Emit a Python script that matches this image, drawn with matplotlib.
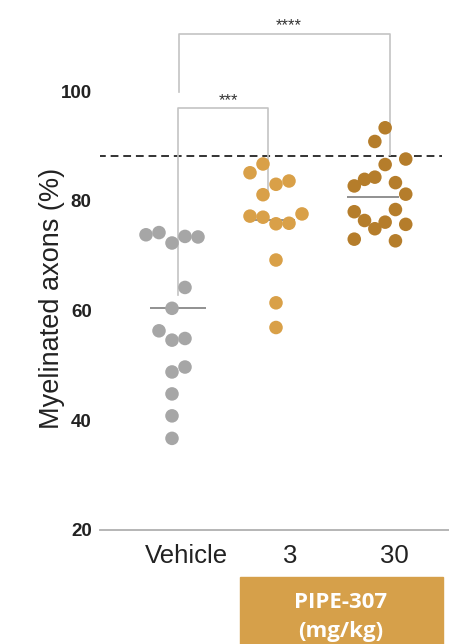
import matplotlib
matplotlib.use("Agg")
import matplotlib.pyplot as plt
import matplotlib.transforms as mtransforms
from matplotlib.patches import Rectangle

# ---------------- data ----------------
groups = ["Vehicle", "3", "30"]
vehicle_vals = [73.8, 74.2, 72.3, 73.5, 73.4, 64.2, 60.4, 56.3, 54.6, 54.9,
                49.7, 48.8, 44.8, 40.8, 36.7]
vehicle_slots = [-2, -1, 0, 1, 2, 1, 0, -1, 0, 1, 1, 0, 0, 0, 0]
dose3_vals = [85.1, 86.7, 83.0, 83.6, 81.1, 77.2, 77.0, 75.8, 75.9, 77.6,
              69.2, 61.4, 56.9]
dose3_slots = [-2, -1, 0, 1, -1, -2, -1, 0, 1, 2, 0, 0, 0]
dose30_vals = [93.3, 90.8, 86.6, 87.6, 82.7, 83.9, 84.3, 83.3, 81.2, 78.0,
               76.4, 74.9, 76.1, 78.4, 75.7, 73.0, 72.7]
dose30_slots = [0.5, -0.5, 0.5, 2.5, -2.5, -1.5, -0.5, 1.5, 2.5, -2.5,
                -1.5, -0.5, 0.5, 1.5, 2.5, -2.5, 1.5]
group_lines = [60.4, 76.5, 80.6]
reference_level = 88.2
yticks = [20, 40, 60, 80, 100]
sig_labels = ["***", "****"]

colors = ["#a6a6a6", "#d9a048", "#b57d2b"]
box_color = "#d6a04a"

# ---------------- figure ----------------
W, H = 449, 644
fig = plt.figure(figsize=(W / 100, H / 100), dpi=100)
ax = fig.add_axes([100 / W, (H - 530) / H, (W - 100) / W, 530 / H])

px_per_unit_y = (530 - 91) / 80.0
ymax = 100 + 91 / px_per_unit_y
ax.set_ylim(20, ymax)
col_px = 104.0
ax.set_xlim((100 - 172) / col_px, (449 - 172) / col_px)

def y_of(py):
    return 100 - (py - 91) / px_per_unit_y

def x_of(px):
    return (px - 172) / col_px

slot_w = [13 / col_px, 13 / col_px, 10.3 / col_px]
all_vals = [vehicle_vals, dose3_vals, dose30_vals]
all_slots = [vehicle_slots, dose3_slots, dose30_slots]

# group lines (behind points)
line_half = [28 / col_px, 21 / col_px, 26 / col_px]
line_centers = [x_of(177.5), x_of(274), x_of(372.5)]
for i, lv in enumerate(group_lines):
    ax.plot([line_centers[i] - line_half[i], line_centers[i] + line_half[i]], [lv, lv],
            color="#888888", lw=1.3, zorder=2, solid_capstyle="butt")

# dashed reference
ax.plot([x_of(98), x_of(442)], [reference_level, reference_level],
        color="#333333", lw=1.4, ls=(0, (4, 2.5)), zorder=1)

# brackets
bc = "#c4c4c4"
xL = x_of(178)
ax.plot([xL, xL, x_of(268), x_of(268)], [y_of(295), y_of(108), y_of(108), y_of(197)],
        color=bc, lw=1.2, zorder=1)
ax.plot([x_of(179), x_of(179), x_of(390), x_of(390)], [y_of(92), y_of(34), y_of(34), y_of(155)],
        color=bc, lw=1.2, zorder=1)
ax.text(x_of(228), y_of(101), sig_labels[0], ha="center", va="center", fontsize=12,
        color="#333333", family="Liberation Sans")
ax.text(x_of(289), y_of(26), sig_labels[1], ha="center", va="center", fontsize=12,
        color="#333333", family="Liberation Sans")

# points
for i in range(3):
    xs = [i + s * slot_w[i] for s in all_slots[i]]
    ax.scatter(xs, all_vals[i], s=95, color=colors[i], edgecolors="none", zorder=3)

# axes styling
for sp in ["left", "right", "top"]:
    ax.spines[sp].set_visible(False)
ax.spines["bottom"].set_color("#b0b0b0")
ax.spines["bottom"].set_linewidth(1.3)
ax.set_yticks(yticks)
ax.set_yticklabels([str(t) for t in yticks], fontsize=13.5, fontweight="bold",
                   family="Liberation Sans", color="#222222")
ax.tick_params(axis="y", length=0, pad=6)
ax.set_xticks([0, 1, 2])
ax.set_xticklabels(groups, fontsize=18.5, family="Liberation Sans", color="#222222")
ax.tick_params(axis="x", length=0, pad=10)
offset = mtransforms.ScaledTranslation(14 / 100, 0, fig.dpi_scale_trans)
for lab in ax.get_xticklabels():
    lab.set_transform(lab.get_transform() + offset)

fig.text(52 / W, 1 - 298 / H, "Myelinated axons (%)", rotation=90, ha="center", va="center",
         fontsize=19.5, family="Liberation Sans", color="#222222")

# dose box
fig.patches.append(Rectangle((240 / W, 0), (443 - 240) / W, (H - 577) / H,
                             transform=fig.transFigure, color=box_color, zorder=0))
fig.text(341 / W, 1 - 602 / H, "PIPE-307", ha="center", va="center", fontsize=16,
         fontweight="bold", family="Open Sans", color="white")
fig.text(341 / W, 1 - 631 / H, "(mg/kg)", ha="center", va="center", fontsize=16,
         fontweight="bold", family="Open Sans", color="white")

fig.savefig("out.png", dpi=100)
